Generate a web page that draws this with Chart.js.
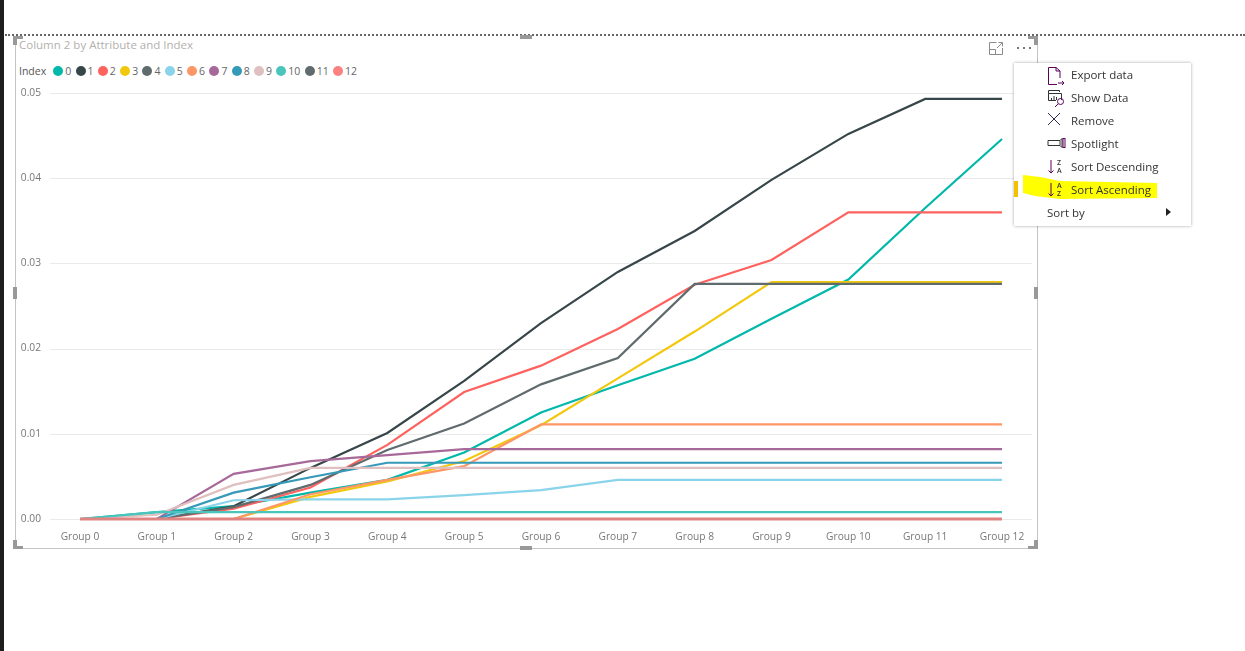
<!DOCTYPE html>
<html>
<head>
<meta charset="utf-8">
<title>Column 2 by Attribute and Index</title>
<script src="https://cdn.jsdelivr.net/npm/chart.js@4/dist/chart.umd.min.js"></script>
<style>
    html, body { margin: 0; padding: 0; background: #fff; overflow: hidden; }
    body { width: 1245px; height: 651px; position: relative; font-family: "Open Sans", sans-serif; }
    canvas { position: absolute; left: 0; top: 0; }
    .abs { position: absolute; }
    .sidebar { left: 0; top: 0; width: 4px; height: 651px; background: #1e1e1e; }
    .dotted { left: 5px; top: 34px; width: 1240px; border-top: 2px dotted #666; }
    .frame { left: 15px; top: 36px; width: 1021px; height: 512px; border: solid #c4c4c4; border-width: 0 1px 1px 1px; }
    .handle { background: #999; }
    .title { left: 19px; top: 37px; font-size: 11.5px; color: #b3b0ad; line-height: 16px; white-space: nowrap; }
    .legend { left: 19px; top: 63px; display: flex; align-items: center; font-size: 10.5px; color: #666; line-height: 16px; }
    .legend b { font-weight: 400; color: #555; margin-right: 7px; }
    .legend i { width: 10px; height: 10px; border-radius: 50%; margin-right: 2px; display: block; }
    .legend span { margin-right: 4.3px; }
    .menu { left: 1014px; top: 63px; width: 177px; height: 163px; background: #fff; box-shadow: 0 0 3px rgba(0,0,0,.35); }
    .menu div { position: absolute; font-size: 11.5px; color: #333; line-height: 16px; white-space: nowrap; }
    .menu svg { position: absolute; }
</style>
</head>
<body>
<div class="abs sidebar"></div>
<div class="abs dotted"></div>
<div class="abs frame"></div>
<div class="abs title">Column 2 by Attribute and Index</div>
<div class="abs legend" id="legend"><b>Index</b></div>
<canvas id="lineChart" width="1245" height="651"></canvas>

<!-- selection handles -->
<div class="abs handle" style="left:13px;top:36px;width:10px;height:3px"></div>
<div class="abs handle" style="left:13px;top:36px;width:4px;height:9px"></div>
<div class="abs handle" style="left:1028px;top:36px;width:10px;height:3px"></div>
<div class="abs handle" style="left:1034px;top:36px;width:4px;height:9px"></div>
<div class="abs handle" style="left:13px;top:546px;width:10px;height:3px"></div>
<div class="abs handle" style="left:13px;top:540px;width:4px;height:9px"></div>
<div class="abs handle" style="left:1028px;top:546px;width:10px;height:3px"></div>
<div class="abs handle" style="left:1034px;top:540px;width:4px;height:9px"></div>
<div class="abs handle" style="left:13px;top:287px;width:4px;height:12px"></div>
<div class="abs handle" style="left:1034px;top:287px;width:4px;height:12px"></div>
<div class="abs handle" style="left:520px;top:546px;width:12px;height:4px"></div>
<div class="abs handle" style="left:520px;top:35px;width:12px;height:4px"></div>

<!-- focus mode and more options -->
<svg class="abs" style="left:988px;top:41px" width="16" height="15" fill="none" stroke="#8a8a8a">
    <path d="M8.5 1.5H1.5V13.5H14.5V7M1.5 8.5H7.5V13.5M9 7L14 2M10.5 1.5H14.5V5.5"/>
</svg>
<svg class="abs" style="left:1016px;top:46px" width="16" height="4" fill="#777">
    <rect x="1" y="1" width="2" height="2"/><rect x="7" y="1" width="2" height="2"/><rect x="13" y="1" width="2" height="2"/>
</svg>

<!-- context menu -->
<div class="abs menu">
    <svg style="left:33px;top:3px" width="20" height="20" fill="none" stroke="#5c005c">
        <path d="M1.5 1.5H9L13 5V12M1.5 1.5V18.5H10M9 1.5V5H13M11 17H17M15 15L17 17L15 19"/>
    </svg>
    <svg style="left:33px;top:26px" width="20" height="20" fill="none" stroke="#333">
        <path d="M1.5 4.5V1.5H12.5V3M1.5 4.5H14.5V11M1.5 4.5V11.5H9M4.5 9V11M7 7V11M9.5 8V11"/><circle cx="13.5" cy="12.5" r="3" stroke="#5c005c"/><path d="M11 15L8 18" stroke="#5c005c"/>
    </svg>
    <svg style="left:33px;top:48px" width="16" height="16" fill="none" stroke="#2b2b55">
        <path d="M1 2L13 14M13 2L1 14"/>
    </svg>
    <svg style="left:33px;top:74px" width="20" height="12" fill="none" stroke="#333">
        <path d="M1 3.5H13V8.5H1ZM13 3.5L15 1.5V10.5L13 8.5"/><rect x="16" y="1.5" width="2" height="9" stroke="#5c005c"/>
    </svg>
    <svg style="left:33px;top:96px" width="18" height="16" fill="none" stroke="#5c005c">
        <path d="M4 1V14M1.5 11.5L4 14L6.5 11.5"/>
    </svg>
    <div style="left:43px;top:96px;font-size:7px;line-height:8px;font-weight:600;color:#333">Z<br>A</div>
    <svg style="left:0;top:0" width="177" height="163" fill="#ffff00">
        <path d="M9 112L26 114L46 118L143 120V135L46 136L21 133L9 130Z"/>
    </svg>
    <div style="left:0;top:118px;width:4px;height:16px;background:#f2c200"></div>
    <svg style="left:33px;top:119px" width="18" height="16" fill="none" stroke="#5c005c">
        <path d="M4 1V14M1.5 11.5L4 14L6.5 11.5"/>
    </svg>
    <div style="left:43px;top:119px;font-size:7px;line-height:8px;font-weight:600;color:#333">A<br>Z</div>
    <div style="left:57px;top:4px">Export data</div>
    <div style="left:57px;top:27px">Show Data</div>
    <div style="left:57px;top:50px">Remove</div>
    <div style="left:57px;top:73px">Spotlight</div>
    <div style="left:57px;top:96px">Sort Descending</div>
    <div style="left:57px;top:119px">Sort Ascending</div>
    <div style="left:33px;top:142px">Sort by</div>
    <svg style="left:151px;top:144px" width="8" height="10" fill="#222"><path d="M1 1L6 5L1 9Z"/></svg>
</div>

<script>
// Chart data
const groups = ['Group 0', 'Group 1', 'Group 2', 'Group 3', 'Group 4', 'Group 5', 'Group 6', 'Group 7', 'Group 8', 'Group 9', 'Group 10', 'Group 11', 'Group 12'];
const yTicks = [0, 0.01, 0.02, 0.03, 0.04, 0.05];
const indexNames = ['0', '1', '2', '3', '4', '5', '6', '7', '8', '9', '10', '11', '12'];

const series0 = [0, 0.0008, 0.0015, 0.0031, 0.0046, 0.0078, 0.0125, 0.0157, 0.0188, 0.0235, 0.0281, 0.0365, 0.0446];
const series1 = [0, 0, 0.0015, 0.006, 0.0101, 0.0162, 0.023, 0.029, 0.0338, 0.0398, 0.0452, 0.0493, 0.0493];
const series2 = [0, 0, 0.0012, 0.0037, 0.0087, 0.0149, 0.018, 0.0223, 0.0275, 0.0304, 0.036, 0.036, 0.036];
const series3 = [0, 0, 0, 0.0026, 0.0044, 0.0068, 0.011, 0.0165, 0.022, 0.0278, 0.0278, 0.0278, 0.0278];
const series4 = [0, 0, 0.0014, 0.004, 0.0081, 0.0112, 0.0158, 0.0189, 0.0276, 0.0276, 0.0276, 0.0276, 0.0276];
const series5 = [0, 0, 0.0022, 0.0023, 0.0023, 0.0028, 0.0034, 0.0046, 0.0046, 0.0046, 0.0046, 0.0046, 0.0046];
const series6 = [0, 0, 0, 0.0029, 0.0046, 0.0062, 0.0111, 0.0111, 0.0111, 0.0111, 0.0111, 0.0111, 0.0111];
const series7 = [0, 0, 0.0053, 0.0068, 0.0075, 0.0082, 0.0082, 0.0082, 0.0082, 0.0082, 0.0082, 0.0082, 0.0082];
const series8 = [0, 0, 0.0031, 0.0049, 0.0066, 0.0066, 0.0066, 0.0066, 0.0066, 0.0066, 0.0066, 0.0066, 0.0066];
const series9 = [0, 0.0005, 0.004, 0.006, 0.006, 0.006, 0.006, 0.006, 0.006, 0.006, 0.006, 0.006, 0.006];
const series10 = [0, 0.0008, 0.0008, 0.0008, 0.0008, 0.0008, 0.0008, 0.0008, 0.0008, 0.0008, 0.0008, 0.0008, 0.0008];
const series11 = [0, 0, 0, 0, 0, 0, 0, 0, 0, 0, 0, 0, 0];
const series12 = [0, 0, 0, 0, 0, 0, 0, 0, 0, 0, 0, 0, 0];
const allSeries = [series0, series1, series2, series3, series4, series5, series6, series7, series8, series9, series10, series11, series12];

const colors = ['#01B8AA', '#374649', '#FD625E', '#F2C80F', '#5F6B6D', '#8AD4EB', '#FE9666', '#A66999', '#3599B8', '#DFBFBF', '#4AC5BB', '#5F6B6D', '#FB8281'];

// Legend row
const legend = document.getElementById('legend');
indexNames.forEach((name, i) => {
    const dot = document.createElement('i');
    dot.style.background = colors[i];
    const label = document.createElement('span');
    label.textContent = name;
    legend.appendChild(dot);
    legend.appendChild(label);
});

// Horizontal grid lines run wider than the plotted category range
const wideGrid = {
    id: 'wideGrid',
    beforeDatasetsDraw(chart) {
        const ctx = chart.ctx;
        const y = chart.scales.y;
        ctx.save();
        ctx.strokeStyle = '#eaeaea';
        ctx.lineWidth = 1;
        yTicks.forEach(t => {
            const py = Math.round(y.getPixelForValue(t)) + 0.5;
            ctx.beginPath();
            ctx.moveTo(50, py);
            ctx.lineTo(1032, py);
            ctx.stroke();
        });
        ctx.restore();
    }
};

new Chart(document.getElementById('lineChart'), {
    type: 'line',
    data: {
        labels: groups,
        datasets: allSeries.map((values, i) => ({
            label: indexNames[i],
            data: values,
            borderColor: i === 12 ? 'rgba(224, 132, 130, 1)' : colors[i],
            borderWidth: i === 12 ? 3 : 2.2,
            pointRadius: 0,
            tension: 0,
            clip: false,
            order: 12 - i
        }))
    },
    plugins: [wideGrid],
    options: {
        responsive: false,
        animation: false,
        layout: { padding: { left: 0, right: 243, top: 93, bottom: 0 } },
        plugins: {
            legend: { display: false },
            title: { display: false },
            tooltip: { enabled: false }
        },
        scales: {
            x: {
                offset: false,
                grid: { display: false },
                border: { display: false },
                afterFit: scale => { scale.height = 132; },
                ticks: {
                    autoSkip: false,
                    maxRotation: 0,
                    padding: 4,
                    color: '#777',
                    font: { family: 'Open Sans', size: 10.2 }
                }
            },
            y: {
                min: 0,
                max: 0.05,
                grid: { display: false },
                border: { display: false },
                afterFit: scale => { scale.width = 80; },
                afterBuildTicks: scale => { scale.ticks = yTicks.map(v => ({ value: v })); },
                ticks: {
                    padding: 31,
                    color: '#777',
                    font: { family: 'Open Sans', size: 10.2 },
                    callback: value => value.toFixed(2)
                }
            }
        }
    }
});
</script>
</body>
</html>
